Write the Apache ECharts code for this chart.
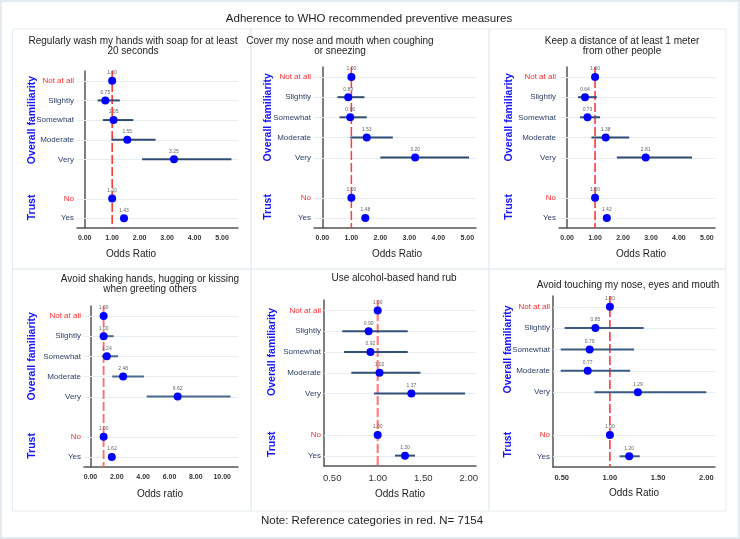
<!DOCTYPE html>
<html><head><meta charset="utf-8">
<script src="https://cdn.jsdelivr.net/npm/echarts@6/dist/echarts.min.js"></script>
<style>html,body{margin:0;padding:0;background:#fff}#c{width:740px;height:539px}</style>
</head><body><div id="c"></div>
<script>
// ---- data ----
const categories = ['Not at all', 'Slightly', 'Somewhat', 'Moderate', 'Very', ' ', 'No', 'Yes'];
const refCategories = ['Not at all', 'No'];
const groupLabels = ['Overall familiarity', 'Trust'];

const panelTitles = [
  'Regularly wash my hands with soap for at least\n20 seconds',
  'Cover my nose and mouth when coughing\nor sneezing',
  'Keep a distance of at least 1 meter\nfrom other people',
  'Avoid shaking hands, hugging or kissing\nwhen greeting others',
  'Use alcohol-based hand rub',
  'Avoid touching my nose, eyes and mouth'
];
const axisNames = ['Odds Ratio', 'Odds Ratio', 'Odds Ratio', 'Odds ratio', 'Odds Ratio', 'Odds Ratio'];

const washOR = [1.00, 0.75, 1.05, 1.55, 3.25, null, 1.00, 1.43];
const washLo = [null, 0.47, 0.66, 0.98, 2.09, null, null, 1.32];
const washHi = [null, 1.28, 1.77, 2.58, 5.34, null, null, 1.55];

const coverOR = [1.00, 0.89, 0.96, 1.53, 3.20, null, 1.00, 1.48];
const coverLo = [null, 0.52, 0.59, 0.96, 2.00, null, null, 1.36];
const coverHi = [null, 1.45, 1.53, 2.43, 5.06, null, null, 1.61];

const distOR = [1.00, 0.64, 0.73, 1.38, 2.81, null, 1.00, 1.42];
const distLo = [null, 0.39, 0.46, 0.87, 1.78, null, null, 1.30];
const distHi = [null, 1.06, 1.18, 2.22, 4.47, null, null, 1.55];

const shakeOR = [1.00, 1.00, 1.24, 2.48, 6.62, null, 1.00, 1.62];
const shakeLo = [null, 0.71, 0.86, 1.65, 4.27, null, null, 1.40];
const shakeHi = [null, 1.76, 2.10, 4.07, 10.63, null, null, 1.88];

const rubOR = [1.00, 0.90, 0.92, 1.02, 1.37, null, 1.00, 1.30];
const rubLo = [null, 0.61, 0.63, 0.71, 0.96, null, null, 1.19];
const rubHi = [null, 1.33, 1.33, 1.47, 1.96, null, null, 1.41];

const touchOR = [1.00, 0.85, 0.79, 0.77, 1.29, null, 1.00, 1.20];
const touchLo = [null, 0.53, 0.49, 0.49, 0.84, null, null, 1.10];
const touchHi = [null, 1.35, 1.25, 1.21, 2.00, null, null, 1.31];

const ticksA = [0, 1, 2, 3, 4, 5];
const ticksB = [0, 2, 4, 6, 8, 10];
const ticksC = [0.5, 1, 1.5, 2];

const referenceValue = 1;
const mainTitle = 'Adherence to WHO recommended preventive measures';
const noteText = 'Note: Reference categories in red. N= 7154';

const seriesOR = [washOR, coverOR, distOR, shakeOR, rubOR, touchOR];
const seriesLo = [washLo, coverLo, distLo, shakeLo, rubLo, touchLo];
const seriesHi = [washHi, coverHi, distHi, shakeHi, rubHi, touchHi];
const seriesTicks = [ticksA, ticksA, ticksA, ticksB, ticksC, ticksC];

// ---- layout / style ----
const layout = [
  {left: 77, top: 71, width: 161, height: 157, xmin: -0.28, xmax: 5.58, tx: 133, ty: 46.5, nx: 131, ny: 254, gx: 32, tf: 7, tb: 'bold', red: '#ff2b2b', rw: 1.5, ci: '#2f4a74'},
  {left: 314, top: 67, width: 162, height: 161, xmin: -0.29, xmax: 5.30, tx: 340, ty: 46, nx: 397, ny: 254, gx: 268, tf: 7, tb: 'bold', red: '#ff3b3b', rw: 1.5, ci: '#2f4a74'},
  {left: 559, top: 67, width: 156, height: 161, xmin: -0.29, xmax: 5.29, tx: 622, ty: 46, nx: 641, ny: 254, gx: 509, tf: 7, tb: 'bold', red: '#ff2b2b', rw: 1.5, ci: '#2f4a74'},
  {left: 84, top: 306, width: 154, height: 161, xmin: -0.49, xmax: 11.2, tx: 150, ty: 284, nx: 160, ny: 494, gx: 32, tf: 7, tb: 'bold', red: '#ff6a6a', rw: 1.8, ci: '#4a6890'},
  {left: 324, top: 300, width: 152, height: 166, xmin: 0.41, xmax: 2.08, tx: 394, ty: 278.5, nx: 400, ny: 494, gx: 272, tf: 9.5, tb: 'normal', red: '#ff8080', rw: 2.2, ci: '#33507a'},
  {left: 553, top: 296, width: 162, height: 171, xmin: 0.41, xmax: 2.09, tx: 628, ty: 285.5, nx: 634, ny: 493, gx: 508, tf: 7.5, tb: 'bold', red: '#ff2b2b', rw: 1.5, ci: '#3b5a85'}
];

const FONT = '"Liberation Sans", Arial, sans-serif';
const RED = '#ff2b2b';
const LABEL = '#2c3e66';
const DOT = '#0000ff';

const grids = [], xAxes = [], yAxes = [], series = [];
layout.forEach((L, i) => {
  grids.push({left: L.left, top: L.top, width: L.width, height: L.height, containLabel: false});
  const ticks = seriesTicks[i];
  xAxes.push({
    type: 'value', gridIndex: i, min: L.xmin, max: L.xmax,
    axisLine: {show: true, lineStyle: {color: '#555', width: 1.5}},
    axisTick: {show: false},
    splitLine: {show: false},
    axisLabel: {
      customValues: ticks, margin: 7, fontSize: L.tf, fontWeight: L.tb, color: '#333', fontFamily: FONT,
      formatter: v => Number(v).toFixed(2)
    }
  });
  yAxes.push({
    type: 'category', gridIndex: i, data: categories, inverse: true, boundaryGap: true,
    axisLine: {show: true, lineStyle: {color: '#555', width: 1.5}},
    axisTick: {show: false},
    splitLine: {show: false},
    axisLabel: {
      margin: 3, fontSize: 8, fontFamily: FONT,
      formatter: v => v.trim() === '' ? '' : (refCategories.includes(v) ? '{r|' + v + '}' : '{n|' + v + '}'),
      rich: {
        r: {color: RED, fontSize: 8, fontFamily: FONT},
        n: {color: LABEL, fontSize: 8, fontFamily: FONT}
      }
    }
  });
  const OR = seriesOR[i], lo = seriesLo[i], hi = seriesHi[i];
  // row lines
  const rowIdx = [];
  categories.forEach((c, k) => { if (c.trim() !== '') rowIdx.push([k]); });
  series.push({
    type: 'custom', xAxisIndex: i, yAxisIndex: i, z: 1, silent: true,
    encode: {y: 0}, data: rowIdx,
    renderItem: (params, api) => {
      const cs = params.coordSys;
      const y = Math.round(api.coord([L.xmin, api.value(0)])[1]) + 0.5;
      return {type: 'line', shape: {x1: cs.x, y1: y, x2: cs.x + cs.width, y2: y},
        style: {stroke: '#e6eef2', lineWidth: 1}};
    }
  });
  // reference line
  series.push({
    type: 'custom', xAxisIndex: i, yAxisIndex: i, z: 2, silent: true,
    encode: {x: 0}, data: [[referenceValue]],
    renderItem: (params, api) => {
      const cs = params.coordSys;
      const x = api.coord([api.value(0), 0])[0];
      return {type: 'line', shape: {x1: x, y1: cs.y, x2: x, y2: cs.y + cs.height},
        style: {stroke: L.red, lineWidth: L.rw, lineDash: [9, 3]}};
    }
  });
  // CI bars
  const ciData = [];
  OR.forEach((v, k) => { if (lo[k] != null && hi[k] != null) ciData.push([lo[k], hi[k], k]); });
  series.push({
    type: 'custom', xAxisIndex: i, yAxisIndex: i, z: 3, silent: true,
    encode: {x: [0, 1], y: 2},
    data: ciData,
    renderItem: (params, api) => {
      const p1 = api.coord([api.value(0), api.value(2)]);
      const p2 = api.coord([api.value(1), api.value(2)]);
      return {type: 'rect', shape: {x: p1[0], y: p1[1] - 1, width: p2[0] - p1[0], height: 2},
        style: {fill: L.ci, stroke: null}};
    }
  });
  // points
  series.push({
    type: 'scatter', xAxisIndex: i, yAxisIndex: i, z: 4,
    symbol: 'circle', symbolSize: 8,
    itemStyle: {color: DOT, opacity: 1},
    data: OR.map((v, k) => v == null ? null : [v, categories[k]]).filter(d => d),
    label: {show: true, position: 'top', distance: 1.5, fontSize: 5, color: '#666', fontFamily: FONT,
      formatter: p => p.value[0].toFixed(2)}
  });
});

// frames and texts
const graphics = [];
graphics.push({type: 'rect', shape: {x: 1, y: 1, width: 738, height: 537}, style: {fill: 'none', stroke: '#e3ebee', lineWidth: 2}, silent: true});
const colsX = [12.5, 251, 489, 726];
const rowsY = [29, 269, 511];
for (let r = 0; r < 2; r++) for (let c = 0; c < 3; c++) {
  graphics.push({type: 'rect', shape: {x: colsX[c], y: rowsY[r], width: colsX[c + 1] - colsX[c], height: rowsY[r + 1] - rowsY[r]},
    style: {fill: 'none', stroke: '#e4ecef', lineWidth: 1}, silent: true});
}
function txt(text, x, y, size, color, weight, rot, lh) {
  return {type: 'text', x: x, y: y, rotation: rot || 0, silent: true, z: 10,
    style: {text: text, fill: color, font: (weight || 'normal') + ' ' + size + 'px ' + FONT,
      align: 'center', verticalAlign: 'middle', textAlign: 'center', textVerticalAlign: 'middle', lineHeight: lh || size}};
}
graphics.push(txt(mainTitle, 369, 19, 11.5, '#222'));
graphics.push(txt(noteText, 372, 521, 11.5, '#222'));
layout.forEach((L, i) => {
  graphics.push(txt(panelTitles[i], L.tx, L.ty, 10, '#222', 'normal', 0, 10));
  graphics.push(txt(axisNames[i], L.nx, L.ny, 10, '#222'));
});

const chart = echarts.init(document.getElementById('c'), null, {renderer: 'canvas'});
chart.setOption({
  animation: false,
  backgroundColor: '#ffffff',
  grid: grids, xAxis: xAxes, yAxis: yAxes, series: series,
  graphic: {elements: graphics}
});

// group labels, positioned from the category scale
const extra = [];
layout.forEach((L, i) => {
  const yA = chart.convertToPixel({gridIndex: i}, [1, categories[0]])[1];
  const yB = chart.convertToPixel({gridIndex: i}, [1, categories[4]])[1];
  const yC = chart.convertToPixel({gridIndex: i}, [1, categories[6]])[1];
  const yD = chart.convertToPixel({gridIndex: i}, [1, categories[7]])[1];
  extra.push(txt(groupLabels[0], L.gx, (yA + yB) / 2, 10.5, '#1414ff', 'bold', Math.PI / 2));
  extra.push(txt(groupLabels[1], L.gx, (yC + yD) / 2 - 1, 10.5, '#1414ff', 'bold', Math.PI / 2));
});
chart.setOption({graphic: {elements: graphics.concat(extra)}}, {replaceMerge: ['graphic']});
</script>
</body></html>
